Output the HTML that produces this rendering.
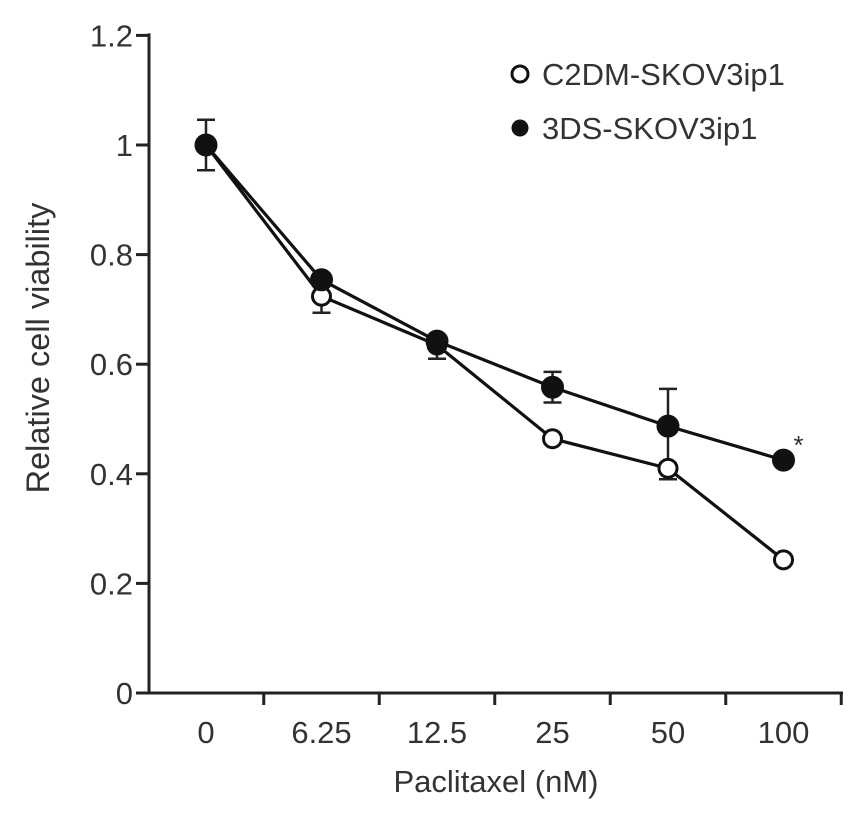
<!DOCTYPE html>
<html><head><meta charset="utf-8"><style>
body{margin:0;background:#fff;}
svg{display:block;font-family:"Liberation Sans",Arial,sans-serif;}
</style></head><body>
<svg id="chart" width="866" height="823"></svg>
<script>
const categories=["0","6.25","12.5","25","50","100"];
const c2dmValues=[1.0,0.724,0.635,0.464,0.41,0.243];
const c2dmErrDown=[0.0,0.03,0.025,0.0,0.02,0.0];
const ds3Values=[1.0,0.754,0.642,0.558,0.487,0.425];
const ds3Err=[0.046,0.0,0.0,0.028,0.068,0.0];
const yTicks=[0,0.2,0.4,0.6,0.8,1,1.2];
const yTickLabels=["0","0.2","0.4","0.6","0.8","1","1.2"];

const NS="http://www.w3.org/2000/svg";
const svg=document.getElementById('chart');
const x0=149,y0=693,yScale=548;
const step=115.5, firstX=206;
function xs(i){return firstX+i*step;}
function ys(v){return y0-v*yScale;}
function mk(tag,attrs,parent){const e=document.createElementNS(NS,tag);for(const k in attrs)e.setAttribute(k,attrs[k]);(parent||svg).appendChild(e);return e;}

let e=mk('line',{x1:x0,y1:ys(1.2)-2,x2:x0,y2:y0+1.5,stroke:'#222','stroke-width':3});


e=mk('line',{x1:x0-1.5,y1:y0,x2:843,y2:y0,stroke:'#222','stroke-width':3});


yTicks.forEach((v,i)=>{
  const t=mk('line',{x1:x0-13,y1:ys(v),x2:x0,y2:ys(v),stroke:'#222','stroke-width':3});
  
  
  const l=mk('text',{x:x0-16,y:ys(v)+11,'text-anchor':'end','font-size':31,fill:'#333'});
  l.textContent=yTickLabels[i];
  
  
});
for(let i=1;i<=categories.length;i++){
  const tx=firstX+(i-0.5)*step;
  const t=mk('line',{x1:tx,y1:y0,x2:tx,y2:y0+12,stroke:'#222','stroke-width':3});
  
  
}
categories.forEach((c,i)=>{
  const l=mk('text',{x:xs(i),y:743,'text-anchor':'middle','font-size':31,fill:'#333'});
  l.textContent=c;
  
  
});
e=mk('text',{x:496,y:792,'text-anchor':'middle','font-size':31,fill:'#333'});
e.textContent='Paclitaxel (nM)';


e=mk('text',{x:0,y:0,'text-anchor':'middle','font-size':32.5,fill:'#333',transform:'translate(49,348) rotate(-90)'});
e.textContent='Relative cell viability';



function errbar(i,top,bot){
  const g=mk('g',{stroke:'#222','stroke-width':2.5});
  
  
  const x=xs(i);
  mk('line',{x1:x,y1:ys(top),x2:x,y2:ys(bot)},g);
  mk('line',{x1:x-9,y1:ys(top),x2:x+9,y2:ys(top)},g);
  mk('line',{x1:x-9,y1:ys(bot),x2:x+9,y2:ys(bot)},g);
}
ds3Values.forEach((v,i)=>{ if(ds3Err[i]>0) errbar(i,v+ds3Err[i],v-ds3Err[i]); });
c2dmValues.forEach((v,i)=>{ if(c2dmErrDown[i]>0) errbar(i,v,v-c2dmErrDown[i]); });

function series(vals,fill,name){
  const pts=vals.map((v,i)=>xs(i)+','+ys(v)).join(' ');
  const pl=mk('polyline',{points:pts,fill:'none',stroke:'#111','stroke-width':3.2});
  
  
  vals.forEach((v,i)=>{
    const c=mk('circle',{cx:xs(i),cy:ys(v),r:fill==='#fff'?9:10,fill:fill,stroke:'#111','stroke-width':3});
    
    
  });
}
series(c2dmValues,'#fff','c2dm');
series(ds3Values,'#111','3ds');

e=mk('text',{x:xs(5)+10,y:ys(ds3Values[5])-6,'font-size':26,fill:'#333'});
e.textContent='*';



let g=mk('g',{});


mk('circle',{cx:520,cy:74,r:8,fill:'#fff',stroke:'#111','stroke-width':3},g);
let t=mk('text',{x:542,y:85,'font-size':31,fill:'#333'},g);t.textContent='C2DM-SKOV3ip1';
g=mk('g',{});


mk('circle',{cx:520,cy:128,r:8.5,fill:'#111'},g);
t=mk('text',{x:542,y:139,'font-size':31,fill:'#333'},g);t.textContent='3DS-SKOV3ip1';
</script>
</body></html>
